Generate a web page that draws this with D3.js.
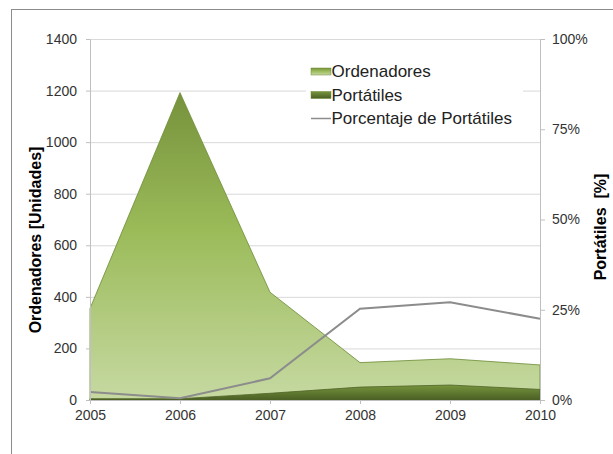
<!DOCTYPE html>
<html>
<head>
<meta charset="utf-8">
<script src="https://cdn.jsdelivr.net/npm/d3@7"></script>
<style>
  body { margin: 0; background: #fff; }
  text { font-family: "Liberation Sans", Arial, sans-serif; }
</style>
</head>
<body>
<div id="chart"></div>
<script>
// --- Data ---
const years = [2005, 2006, 2007, 2008, 2009, 2010];
const ordenadores = [355, 1192, 418, 145, 160, 136];
const portatiles = [5, 5, 26, 50, 58, 41];
const porcentaje = [2.2, 0.5, 6, 25.3, 27.1, 22.5];
const leftTicks = [0, 200, 400, 600, 800, 1000, 1200, 1400];
const rightTicks = [0, 25, 50, 75, 100];

const W = 613, H = 454;
const margin = { top: 39, right: 73, bottom: 54, left: 90 };
const width = W - margin.left - margin.right;
const height = H - margin.top - margin.bottom;

const svg = d3.select("#chart").append("svg")
    .attr("width", W)
    .attr("height", H);

// outer frame (runs off the right and bottom edges)
svg.append("rect")
    .attr("x", 11.5).attr("y", 9.5)
    .attr("width", W).attr("height", H)
    .attr("fill", "none")
    .attr("stroke", "#8c8c8c");

const defs = svg.append("defs");
const g1 = defs.append("linearGradient").attr("id", "gOrd")
    .attr("x1", 0).attr("y1", 0).attr("x2", 0).attr("y2", 1);
g1.append("stop").attr("offset", "0%").attr("stop-color", "#76923c");
g1.append("stop").attr("offset", "45%").attr("stop-color", "#9bbb59");
g1.append("stop").attr("offset", "100%").attr("stop-color", "#c6d9a2");
const g2 = defs.append("linearGradient").attr("id", "gPort")
    .attr("x1", 0).attr("y1", 0).attr("x2", 0).attr("y2", 1);
g2.append("stop").attr("offset", "0%").attr("stop-color", "#77953d");
g2.append("stop").attr("offset", "100%").attr("stop-color", "#4a5f24");

const g = svg.append("g").attr("transform", `translate(${margin.left},${margin.top})`);

// --- Scales ---
const x = d3.scaleLinear().domain([2005, 2010]).range([0, width]);
const y = d3.scaleLinear().domain([0, 1400]).range([height, 0]);
const y2 = d3.scaleLinear().domain([0, 100]).range([height, 0]);

// --- Gridlines ---
g.append("g")
    .selectAll("line")
    .data(leftTicks.slice(1))
    .enter().append("line")
    .attr("x1", 0).attr("x2", width)
    .attr("y1", d => y(d) + 0.5).attr("y2", d => y(d) + 0.5)
    .attr("stroke", "#d9d9d9");

// --- Areas ---
const area = d3.area()
    .x((d, i) => x(years[i]))
    .y0(height)
    .y1(d => y(d));

g.append("path")
    .datum(ordenadores)
    .attr("d", area)
    .attr("fill", "url(#gOrd)")
    .attr("stroke", "#6b8a33")
    .attr("stroke-width", 0.8);

g.append("path")
    .datum(portatiles)
    .attr("d", area)
    .attr("fill", "url(#gPort)")
    .attr("stroke", "#4f6228")
    .attr("stroke-width", 0.8);

// --- Percentage line ---
g.append("path")
    .datum(porcentaje)
    .attr("d", d3.line().x((d, i) => x(years[i])).y(d => y2(d)))
    .attr("fill", "none")
    .attr("stroke", "#8c8c8c")
    .attr("stroke-width", 2);

// --- Axes ---
function styleAxis(sel) {
    sel.select(".domain").attr("stroke", "#bfbfbf");
    sel.selectAll(".tick line").attr("stroke", "#bfbfbf");
    sel.selectAll(".tick text")
        .attr("fill", "#333")
        .style("font-size", "14px")
        .style("font-family", "'Liberation Sans', Arial, sans-serif");
}

g.append("g")
    .call(d3.axisLeft(y).tickValues(leftTicks).tickSize(4).tickSizeOuter(0).tickPadding(9)
        .tickFormat(d3.format("d")))
    .call(styleAxis);

g.append("g")
    .attr("transform", `translate(${width},0)`)
    .call(d3.axisRight(y2).tickValues(rightTicks).tickSize(5).tickSizeOuter(0).tickPadding(7)
        .tickFormat(d => d + "%"))
    .call(styleAxis);

g.append("g")
    .attr("transform", `translate(0,${height})`)
    .call(d3.axisBottom(x).tickValues(years).tickSize(4).tickSizeOuter(0).tickPadding(6)
        .tickFormat(d3.format("d")))
    .call(styleAxis);

// --- Axis titles ---
svg.append("text")
    .attr("transform", "translate(41,240) rotate(-90)")
    .attr("text-anchor", "middle")
    .style("font-size", "16px")
    .style("font-weight", "bold")
    .text("Ordenadores [Unidades]");

svg.append("text")
    .attr("transform", "translate(606,227) rotate(-90)")
    .attr("text-anchor", "middle")
    .style("font-size", "16px")
    .style("font-weight", "bold")
    .style("white-space", "pre")
    .text("Portátiles  [%]");

// --- Legend ---
const legend = svg.append("g").attr("transform", "translate(306,55)");
legend.append("rect")
    .attr("width", 217).attr("height", 80)
    .attr("fill", "#fff");

const legendItems = [
    { name: "Ordenadores", type: "area", fill: "url(#gOrd)" },
    { name: "Portátiles", type: "area", fill: "url(#gPort)" },
    { name: "Porcentaje de Portátiles", type: "line" }
];

const li = legend.selectAll(".li")
    .data(legendItems)
    .enter().append("g")
    .attr("transform", (d, i) => `translate(0,${16 + i * 23.5})`);

li.filter(d => d.type === "area").append("rect")
    .attr("x", 5).attr("y", -3).attr("width", 20).attr("height", 7)
    .attr("fill", d => d.fill)
    .attr("stroke", "#6b8a33").attr("stroke-width", 0.5);

li.filter(d => d.type === "line").append("line")
    .attr("x1", 5).attr("x2", 25).attr("y1", 0.5).attr("y2", 0.5)
    .attr("stroke", "#8c8c8c").attr("stroke-width", 1.5);

li.append("text")
    .attr("x", 25.5).attr("dy", "0.36em")
    .style("font-size", "17px")
    .attr("fill", "#222")
    .text(d => d.name);
</script>
</body>
</html>
